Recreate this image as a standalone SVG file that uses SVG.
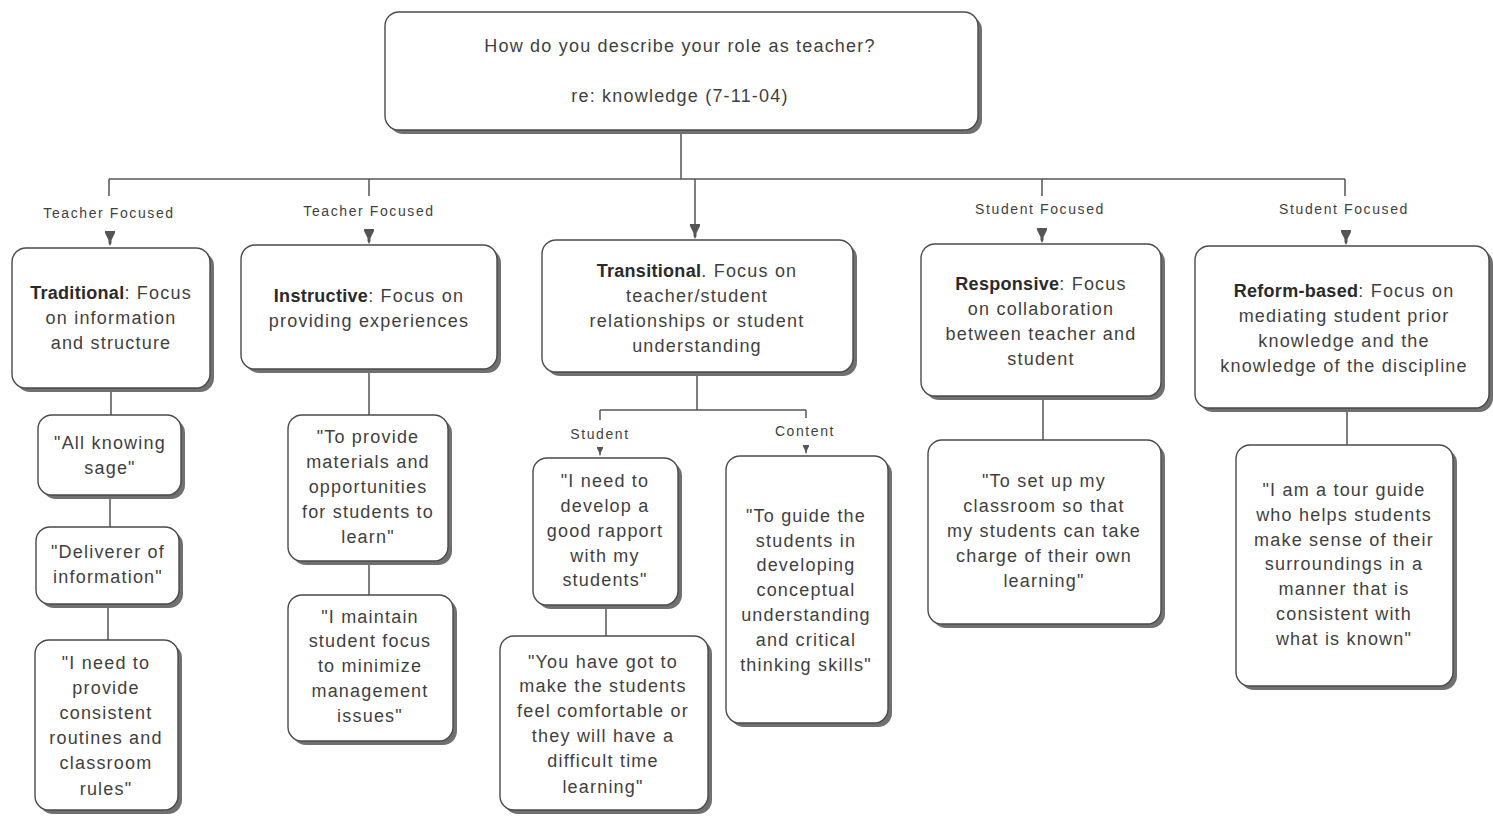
<svg xmlns="http://www.w3.org/2000/svg" xmlns:xlink="http://www.w3.org/1999/xlink" width="1493" height="816" viewBox="0 0 1493 816">
<style>
.sh{fill:#707070}
.box{fill:#fff;stroke:#4a4a4a;stroke-width:1.4}
.t{font-family:"Liberation Sans",Arial,sans-serif;font-size:18px;letter-spacing:1.2px;fill:#3f3f3f;text-anchor:middle}
.b{font-weight:bold;fill:#2a2a2a;letter-spacing:0.3px}
.lbl{font-family:"Liberation Sans",Arial,sans-serif;font-size:14px;letter-spacing:1.6px;fill:#3f3f3f;text-anchor:middle}
.ln{stroke:#555;stroke-width:1.5;fill:none}
.ar{fill:#555}
</style>
<defs>
<path id="arr" d="M-5,0 H5 V2 L1.5,9 V12 L0,15 L-1.5,12 V9 L-5,2 Z"/>
</defs>
<rect width="1493" height="816" fill="#fff"/>

<g id="connectors">
<path class="ln" d="M681,130 V179 M109,179 H1345 M109,179 V196 M369,179 V196 M1042,179 V196 M1345,179 V196 M695,179 V226"/>
<path class="ln" d="M111,390 V415 M110,497 V527 M108,606 V640 M369,371 V415 M369,563 V595 M697,374 V410 M600,410 H806 M600,410 V420 M806,410 V418 M606,607 V636 M1043,398 V440 M1347,410 V445"/>
<use href="#arr" class="ar" x="110" y="231"/>
<use href="#arr" class="ar" x="369" y="229"/>
<use href="#arr" class="ar" x="695" y="224"/>
<use href="#arr" class="ar" x="1042" y="228"/>
<use href="#arr" class="ar" x="1346" y="230"/>
<use href="#arr" class="ar" transform="translate(600,447) scale(0.6)"/>
<use href="#arr" class="ar" transform="translate(806,445) scale(0.6)"/>
<text class="lbl" x="109" y="218">Teacher Focused</text>
<text class="lbl" x="369" y="216">Teacher Focused</text>
<text class="lbl" x="1040" y="214">Student Focused</text>
<text class="lbl" x="1344" y="214">Student Focused</text>
<text class="lbl" x="600" y="439">Student</text>
<text class="lbl" x="805" y="436">Content</text>
</g>

<g id="top">
<rect class="sh" x="389" y="16" width="593" height="118" rx="14"/>
<rect class="box" x="385" y="12" width="593" height="118" rx="14"/>
<text class="t" x="680" y="52">How do you describe your role as teacher?</text>
<text class="t" x="680" y="102">re: knowledge (7-11-04)</text>
</g>

<g id="traditional">
<rect class="sh" x="16" y="252" width="198" height="140" rx="14"/>
<rect class="box" x="12" y="248" width="198" height="140" rx="14"/>
<text class="t" x="111" y="299"><tspan class="b">Traditional</tspan>: Focus</text>
<text class="t" x="111" y="324">on information</text>
<text class="t" x="111" y="349">and structure</text>
</g>

<g id="instructive">
<rect class="sh" x="245" y="249" width="256" height="124" rx="14"/>
<rect class="box" x="241" y="245" width="256" height="124" rx="14"/>
<text class="t" x="369" y="302"><tspan class="b">Instructive</tspan>: Focus on</text>
<text class="t" x="369" y="327">providing experiences</text>
</g>

<g id="transitional">
<rect class="sh" x="546" y="244" width="311" height="132" rx="14"/>
<rect class="box" x="542" y="240" width="311" height="132" rx="14"/>
<text class="t" x="697" y="277"><tspan class="b">Transitional</tspan>. Focus on</text>
<text class="t" x="697" y="302">teacher/student</text>
<text class="t" x="697" y="327">relationships or student</text>
<text class="t" x="697" y="352">understanding</text>
</g>

<g id="responsive">
<rect class="sh" x="925" y="248" width="240" height="152" rx="14"/>
<rect class="box" x="921" y="244" width="240" height="152" rx="14"/>
<text class="t" x="1041" y="290"><tspan class="b">Responsive</tspan>: Focus</text>
<text class="t" x="1041" y="315">on collaboration</text>
<text class="t" x="1041" y="340">between teacher and</text>
<text class="t" x="1041" y="365">student</text>
</g>

<g id="reform">
<rect class="sh" x="1199" y="250" width="294" height="162" rx="14"/>
<rect class="box" x="1195" y="246" width="294" height="162" rx="14"/>
<text class="t" x="1344" y="297"><tspan class="b">Reform-based</tspan>: Focus on</text>
<text class="t" x="1344" y="322">mediating student prior</text>
<text class="t" x="1344" y="347">knowledge and the</text>
<text class="t" x="1344" y="372">knowledge of the discipline</text>
</g>

<g id="allknowing">
<rect class="sh" x="42" y="419" width="143" height="80" rx="14"/>
<rect class="box" x="38" y="415" width="143" height="80" rx="14"/>
<text class="t" x="110" y="449">"All knowing</text>
<text class="t" x="110" y="474">sage"</text>
</g>

<g id="deliverer">
<rect class="sh" x="40" y="531" width="143" height="77" rx="14"/>
<rect class="box" x="36" y="527" width="143" height="77" rx="14"/>
<text class="t" x="108" y="558">"Deliverer of</text>
<text class="t" x="108" y="583">information"</text>
</g>

<g id="routines">
<rect class="sh" x="39" y="644" width="143" height="170" rx="14"/>
<rect class="box" x="35" y="640" width="143" height="170" rx="14"/>
<text class="t" x="106" y="669">"I need to</text>
<text class="t" x="106" y="694">provide</text>
<text class="t" x="106" y="719">consistent</text>
<text class="t" x="106" y="744">routines and</text>
<text class="t" x="106" y="769">classroom</text>
<text class="t" x="106" y="795">rules"</text>
</g>

<g id="materials">
<rect class="sh" x="292" y="419" width="160" height="146" rx="14"/>
<rect class="box" x="288" y="415" width="160" height="146" rx="14"/>
<text class="t" x="368" y="443">"To provide</text>
<text class="t" x="368" y="468">materials and</text>
<text class="t" x="368" y="493">opportunities</text>
<text class="t" x="368" y="518">for students to</text>
<text class="t" x="368" y="543">learn"</text>
</g>

<g id="maintain">
<rect class="sh" x="292" y="599" width="165" height="146" rx="14"/>
<rect class="box" x="288" y="595" width="165" height="146" rx="14"/>
<text class="t" x="370" y="623">"I maintain</text>
<text class="t" x="370" y="647">student focus</text>
<text class="t" x="370" y="672">to minimize</text>
<text class="t" x="370" y="697">management</text>
<text class="t" x="370" y="722">issues"</text>
</g>

<g id="rapport">
<rect class="sh" x="537" y="462" width="145" height="147" rx="14"/>
<rect class="box" x="533" y="458" width="145" height="147" rx="14"/>
<text class="t" x="605" y="487">"I need to</text>
<text class="t" x="605" y="512">develop a</text>
<text class="t" x="605" y="537">good rapport</text>
<text class="t" x="605" y="562">with my</text>
<text class="t" x="605" y="586">students"</text>
</g>

<g id="comfortable">
<rect class="sh" x="504" y="640" width="208" height="174" rx="14"/>
<rect class="box" x="500" y="636" width="208" height="174" rx="14"/>
<text class="t" x="603" y="668">"You have got to</text>
<text class="t" x="603" y="692">make the students</text>
<text class="t" x="603" y="717">feel comfortable or</text>
<text class="t" x="603" y="742">they will have a</text>
<text class="t" x="603" y="767">difficult time</text>
<text class="t" x="603" y="793">learning"</text>
</g>

<g id="guide">
<rect class="sh" x="730" y="460" width="162" height="267" rx="14"/>
<rect class="box" x="726" y="456" width="162" height="267" rx="14"/>
<text class="t" x="806" y="522">"To guide the</text>
<text class="t" x="806" y="547">students in</text>
<text class="t" x="806" y="571">developing</text>
<text class="t" x="806" y="596">conceptual</text>
<text class="t" x="806" y="621">understanding</text>
<text class="t" x="806" y="646">and critical</text>
<text class="t" x="806" y="671">thinking skills"</text>
</g>

<g id="setup">
<rect class="sh" x="932" y="444" width="233" height="184" rx="14"/>
<rect class="box" x="928" y="440" width="233" height="184" rx="14"/>
<text class="t" x="1044" y="487">"To set up my</text>
<text class="t" x="1044" y="512">classroom so that</text>
<text class="t" x="1044" y="537">my students can take</text>
<text class="t" x="1044" y="562">charge of their own</text>
<text class="t" x="1044" y="587">learning"</text>
</g>

<g id="tourguide">
<rect class="sh" x="1240" y="449" width="217" height="241" rx="14"/>
<rect class="box" x="1236" y="445" width="217" height="241" rx="14"/>
<text class="t" x="1344" y="496">"I am a tour guide</text>
<text class="t" x="1344" y="521">who helps students</text>
<text class="t" x="1344" y="546">make sense of their</text>
<text class="t" x="1344" y="570">surroundings in a</text>
<text class="t" x="1344" y="595">manner that is</text>
<text class="t" x="1344" y="620">consistent with</text>
<text class="t" x="1344" y="645">what is known"</text>
</g>
</svg>
